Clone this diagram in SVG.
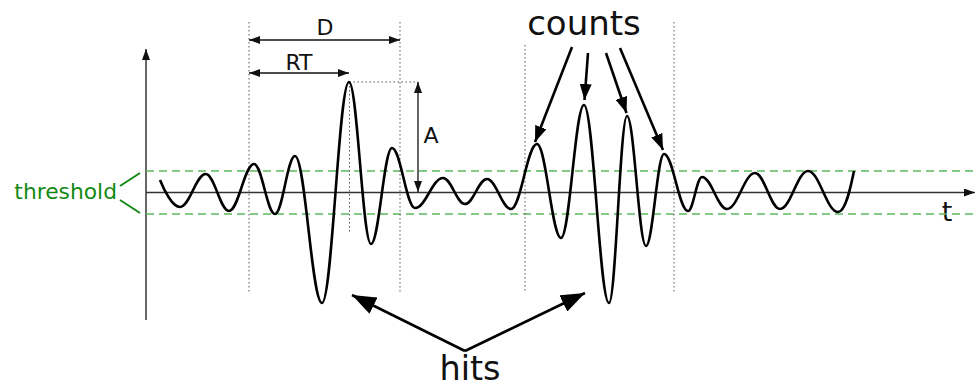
<svg xmlns="http://www.w3.org/2000/svg" width="977" height="388" viewBox="0 0 977 388">
<style>
.axis{stroke:#333;stroke-width:1.5;fill:none}
.dot{stroke:#555;stroke-width:1;stroke-dasharray:1.5 2.5;fill:none}
.thr{stroke:#5cb85c;stroke-width:1.3;stroke-dasharray:8 5;fill:none}
.dim{stroke:#111;stroke-width:1.3;fill:none}
.lbl{font-family:"DejaVu Sans",Verdana,sans-serif;fill:#111}
.wave{stroke:#000;stroke-width:2.6;fill:none;stroke-linejoin:round}
.big{stroke:#000;stroke-width:2.6;fill:none}
</style>
<defs>
<marker id="ms" markerUnits="userSpaceOnUse" markerWidth="11" markerHeight="8" refX="11" refY="4" orient="auto-start-reverse"><path d="M0,0 L11,4 L0,8 z" fill="#111"/></marker>
<marker id="mc" markerUnits="userSpaceOnUse" markerWidth="16" markerHeight="12" refX="16" refY="6" orient="auto"><path d="M0,0 L16,6 L0,12 z" fill="#000"/></marker>
<marker id="mh" markerUnits="userSpaceOnUse" markerWidth="24" markerHeight="18" refX="24" refY="9" orient="auto"><path d="M0,0 L24,9 L0,18 z" fill="#000"/></marker>
</defs>
<g id="axes">
<line class="axis" x1="146" y1="320" x2="146" y2="49" marker-end="url(#ms)"/>
<line class="axis" x1="146" y1="192.5" x2="975" y2="192.5" marker-end="url(#ms)"/>
<text class="lbl" x="947" y="221" font-size="27" text-anchor="middle">t</text>
</g>
<g id="threshold">
<line class="thr" x1="146" y1="171" x2="977" y2="171"/>
<line class="thr" x1="146" y1="214" x2="977" y2="214"/>
<path d="M140,173 L120,186 M120,200 L140,213" stroke="#138a13" stroke-width="2" fill="none"/>
<text x="117" y="199" font-size="21.8" text-anchor="end" font-family="'DejaVu Sans',Verdana,sans-serif" fill="#138a13">threshold</text>
</g>
<g id="guides">
<line class="dot" x1="249" y1="22" x2="249" y2="293"/>
<line class="dot" x1="400" y1="22" x2="400" y2="293"/>
<line class="dot" x1="349.5" y1="82" x2="349.5" y2="232"/>
<line class="dot" x1="349.5" y1="82" x2="418" y2="82"/>
<line class="dot" x1="525" y1="45" x2="525" y2="293"/>
<line class="dot" x1="674" y1="22" x2="674" y2="293"/>
</g>
<g id="dimensions">
<line class="dim" x1="249" y1="40" x2="400" y2="40" marker-start="url(#ms)" marker-end="url(#ms)"/>
<text class="lbl" x="325" y="35" font-size="22" text-anchor="middle">D</text>
<line class="dim" x1="249" y1="73" x2="349" y2="73" marker-start="url(#ms)" marker-end="url(#ms)"/>
<text class="lbl" x="299" y="70" font-size="22" text-anchor="middle">RT</text>
<line class="dim" x1="418" y1="82" x2="418" y2="192" marker-start="url(#ms)" marker-end="url(#ms)"/>
<text class="lbl" x="431" y="143" font-size="22" text-anchor="middle">A</text>
</g>
<g id="waveform">
<path class="wave" d="M160,180 C164,190 172.4,207 180,207 C189.8,207 195.9,174 205.7,174 C214.6,174 220.1,211 229,211 C238.5,211 244.5,164 254,164 C262,164 267,214 275,214 C282.6,214 287.4,156 295,156 C305.3,156 311.7,303 322,303 C332.3,303 338.7,82 349,82 C357.4,82 362.6,244 371,244 C379,244 384,148 392,148 C400.7,148 406.3,208 415,208 C425.6,208 432.4,178 443,178 C451.4,178 456.6,204 465,204 C473.4,204 478.6,179 487,179 C496.1,179 501.9,209 511,209 C520.9,209 527.1,144 537,144 C546.1,144 551.9,238 561,238 C569.7,238 575.3,105 584,105 C593.5,105 599.5,303 609,303 C615.8,303 620.2,116 627,116 C634.2,116 638.8,246 646,246 C652.8,246 657.2,154 664,154 C673.1,154 678.9,211 688,211 C693.3,211 696.7,177 702,177 C711.5,177 717.5,209 727,209 C737.6,209 744.4,173 755,173 C764.5,173 770.5,209 780,209 C790.6,209 797.4,171 808,171 C819.4,171 826.6,212 838,212 C846,212 851,185 854,171"/>
</g>
<g id="counts">
<text class="lbl" x="584" y="35" font-size="34" text-anchor="middle">counts</text>
</g>
<g id="hits">
<text class="lbl" x="470" y="380" font-size="33.5" text-anchor="middle">hits</text>
</g>
<g id="connectors">
<line class="big" x1="572" y1="47" x2="535" y2="142" marker-end="url(#mc)"/>
<line class="big" x1="588" y1="53" x2="584.5" y2="100" marker-end="url(#mc)"/>
<line class="big" x1="606" y1="53" x2="626.5" y2="113" marker-end="url(#mc)"/>
<line class="big" x1="620" y1="48" x2="663" y2="150" marker-end="url(#mc)"/>
<line class="big" x1="465" y1="351" x2="352" y2="295" marker-end="url(#mh)"/>
<line class="big" x1="465" y1="351" x2="585" y2="293" marker-end="url(#mh)"/>
</g>
</svg>
